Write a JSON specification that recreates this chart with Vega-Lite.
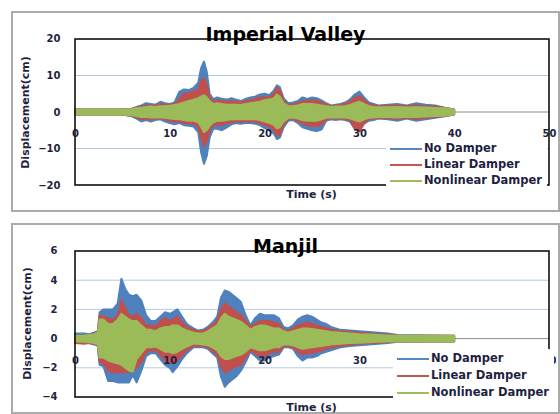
{
"$schema":"https://vega.github.io/schema/vega-lite/v6.json",
"autosize":{"type":"pad"},
"padding":{"left":11,"top":11,"right":0,"bottom":0},
"background":"white",
"bounds":"flush",
"spacing":13,
"resolve":{"legend":{"color":"independent"}},
"config":{"font":"DejaVu Sans","view":{"stroke":"#ababab","strokeWidth":2},"axis":{"labelOverlap":false,"labelBound":false,"labelSeparation":0,"zindex":1}},
"datasets":{
"iv":[
{"t":0,"bl":-0.7,"bh":0.7,"rl":-0.7,"rh":0.7,"gl":-0.7,"gh":0.7},
{"t":5,"bl":-0.7,"bh":0.7,"rl":-0.7,"rh":0.7,"gl":-0.7,"gh":0.7},
{"t":6,"bl":-1.2,"bh":0.9,"rl":-1,"rh":0.9,"gl":-0.9,"gh":0.8},
{"t":6.5,"bl":-1.8,"bh":1.4,"rl":-1.4,"rh":1.2,"gl":-1.1,"gh":1},
{"t":7,"bl":-2.6,"bh":1.8,"rl":-2,"rh":1.6,"gl":-1.4,"gh":1.2},
{"t":7.5,"bl":-2.2,"bh":2.4,"rl":-1.8,"rh":1.8,"gl":-1.3,"gh":1.4},
{"t":8,"bl":-2.6,"bh":2.2,"rl":-2,"rh":1.8,"gl":-1.5,"gh":1.5},
{"t":8.5,"bl":-2.2,"bh":2,"rl":-1.8,"rh":1.7,"gl":-1.5,"gh":1.4},
{"t":9,"bl":-2,"bh":2.8,"rl":-1.7,"rh":2.2,"gl":-1.5,"gh":1.6},
{"t":9.5,"bl":-2.6,"bh":2.4,"rl":-2,"rh":2,"gl":-1.6,"gh":1.6},
{"t":10,"bl":-3,"bh":2.2,"rl":-2.4,"rh":2,"gl":-1.8,"gh":1.7},
{"t":10.5,"bl":-3.4,"bh":2.6,"rl":-2.6,"rh":2.2,"gl":-1.9,"gh":1.9},
{"t":11,"bl":-3,"bh":5.5,"rl":-2.6,"rh":3.6,"gl":-2,"gh":2.2},
{"t":11.5,"bl":-3.6,"bh":6.2,"rl":-3,"rh":5,"gl":-2.2,"gh":2.6},
{"t":12,"bl":-3.8,"bh":6,"rl":-3,"rh":5.2,"gl":-2.4,"gh":3},
{"t":12.5,"bl":-4,"bh":6.6,"rl":-3.2,"rh":5.6,"gl":-2.4,"gh":3.4},
{"t":13,"bl":-5.5,"bh":8,"rl":-4,"rh":6,"gl":-2.8,"gh":3.8},
{"t":13.3,"bl":-11,"bh":12,"rl":-7,"rh":8.5,"gl":-4,"gh":4.2},
{"t":13.6,"bl":-14.2,"bh":13.8,"rl":-9.3,"rh":9.2,"gl":-5.5,"gh":4.6},
{"t":13.9,"bl":-12,"bh":11,"rl":-8,"rh":7.5,"gl":-5,"gh":4},
{"t":14.2,"bl":-7,"bh":5,"rl":-5,"rh":4,"gl":-3.8,"gh":3},
{"t":14.6,"bl":-4.5,"bh":3.5,"rl":-3.5,"rh":2.8,"gl":-2.8,"gh":2.2},
{"t":15,"bl":-4.6,"bh":4,"rl":-3.4,"rh":3.2,"gl":-2.4,"gh":2.4},
{"t":15.5,"bl":-5,"bh":3.6,"rl":-3.6,"rh":3,"gl":-2.4,"gh":2.2},
{"t":16,"bl":-4.2,"bh":3.4,"rl":-3,"rh":2.8,"gl":-2.2,"gh":2},
{"t":16.5,"bl":-3.4,"bh":3.8,"rl":-2.8,"rh":3,"gl":-2,"gh":2},
{"t":17,"bl":-3,"bh":3.4,"rl":-2.6,"rh":2.8,"gl":-2,"gh":2},
{"t":17.5,"bl":-3.2,"bh":3,"rl":-2.6,"rh":2.6,"gl":-2,"gh":1.9},
{"t":18,"bl":-3,"bh":3.6,"rl":-2.4,"rh":3,"gl":-1.9,"gh":2.2},
{"t":18.5,"bl":-3,"bh":4,"rl":-2.6,"rh":3.2,"gl":-2,"gh":2.4},
{"t":19,"bl":-3.2,"bh":4.2,"rl":-2.6,"rh":3.6,"gl":-2,"gh":2.6},
{"t":19.5,"bl":-3.6,"bh":4.8,"rl":-3,"rh":4,"gl":-2.2,"gh":2.8},
{"t":20,"bl":-4.4,"bh":5,"rl":-3.6,"rh":4,"gl":-2.6,"gh":3.2},
{"t":20.5,"bl":-5,"bh":4.6,"rl":-4,"rh":4,"gl":-3,"gh":3.4},
{"t":21,"bl":-6,"bh":6,"rl":-5,"rh":5,"gl":-3.6,"gh":3.8},
{"t":21.3,"bl":-7.4,"bh":7.3,"rl":-6.5,"rh":6.6,"gl":-4.5,"gh":4.8},
{"t":21.6,"bl":-7,"bh":6.8,"rl":-6.2,"rh":6,"gl":-4.2,"gh":4.2},
{"t":22,"bl":-4.2,"bh":3.8,"rl":-3.4,"rh":3,"gl":-2.6,"gh":2.4},
{"t":22.5,"bl":-2.4,"bh":2.4,"rl":-2,"rh":2,"gl":-1.6,"gh":1.6},
{"t":23,"bl":-2.2,"bh":2.6,"rl":-1.8,"rh":2,"gl":-1.5,"gh":1.6},
{"t":23.5,"bl":-3,"bh":3,"rl":-2.4,"rh":2.4,"gl":-1.8,"gh":1.8},
{"t":24,"bl":-4.2,"bh":4,"rl":-3.2,"rh":3,"gl":-2.2,"gh":2.2},
{"t":24.5,"bl":-4.6,"bh":3.6,"rl":-3.6,"rh":3,"gl":-2.4,"gh":2.2},
{"t":25,"bl":-5,"bh":4,"rl":-3.8,"rh":3.2,"gl":-2.4,"gh":2.2},
{"t":25.5,"bl":-5.2,"bh":3.8,"rl":-4,"rh":3,"gl":-2.4,"gh":2},
{"t":26,"bl":-4.8,"bh":3.2,"rl":-3.4,"rh":2.6,"gl":-2,"gh":1.8},
{"t":26.5,"bl":-2.4,"bh":2.4,"rl":-2,"rh":2,"gl":-1.6,"gh":1.6},
{"t":27,"bl":-2,"bh":1.8,"rl":-1.8,"rh":1.6,"gl":-1.5,"gh":1.4},
{"t":27.5,"bl":-2.2,"bh":2,"rl":-1.8,"rh":1.8,"gl":-1.5,"gh":1.5},
{"t":28,"bl":-2,"bh":2.2,"rl":-1.8,"rh":1.9,"gl":-1.5,"gh":1.5},
{"t":28.5,"bl":-2.2,"bh":2.6,"rl":-1.9,"rh":2.2,"gl":-1.5,"gh":1.6},
{"t":29,"bl":-2.6,"bh":3.4,"rl":-2.2,"rh":2.8,"gl":-1.7,"gh":1.9},
{"t":29.5,"bl":-4.6,"bh":4.8,"rl":-4.4,"rh":3.8,"gl":-2.2,"gh":2.4},
{"t":30,"bl":-5,"bh":5.6,"rl":-5.4,"rh":4.4,"gl":-2.6,"gh":2.8},
{"t":30.5,"bl":-3.2,"bh":4,"rl":-3,"rh":3.2,"gl":-2,"gh":2.2},
{"t":31,"bl":-2.4,"bh":2.6,"rl":-2,"rh":2.2,"gl":-1.6,"gh":1.6},
{"t":31.5,"bl":-2.2,"bh":2.2,"rl":-1.8,"rh":1.8,"gl":-1.5,"gh":1.4},
{"t":32,"bl":-1.8,"bh":1.8,"rl":-1.6,"rh":1.6,"gl":-1.4,"gh":1.3},
{"t":33,"bl":-2,"bh":2,"rl":-1.7,"rh":1.7,"gl":-1.4,"gh":1.3},
{"t":34,"bl":-2.4,"bh":2.2,"rl":-1.9,"rh":1.8,"gl":-1.5,"gh":1.4},
{"t":35,"bl":-1.8,"bh":1.8,"rl":-1.6,"rh":1.6,"gl":-1.3,"gh":1.2},
{"t":36,"bl":-2.4,"bh":2.4,"rl":-1.9,"rh":1.8,"gl":-1.4,"gh":1.3},
{"t":37,"bl":-2,"bh":2,"rl":-1.6,"rh":1.6,"gl":-1.2,"gh":1.2},
{"t":38,"bl":-1.6,"bh":1.8,"rl":-1.4,"rh":1.5,"gl":-1.1,"gh":1.1},
{"t":39,"bl":-1.2,"bh":1.2,"rl":-1.1,"rh":1.1,"gl":-1,"gh":1},
{"t":40,"bl":-0.7,"bh":0.7,"rl":-0.7,"rh":0.7,"gl":-0.7,"gh":0.7}
],
"mj":[
{"t":0,"bl":-0.2,"bh":0.35,"rl":-0.3,"rh":0.2,"gl":-0.2,"gh":0.2},
{"t":1,"bl":-0.25,"bh":0.35,"rl":-0.35,"rh":0.2,"gl":-0.22,"gh":0.22},
{"t":1.5,"bl":-0.3,"bh":0.3,"rl":-0.3,"rh":0.25,"gl":-0.25,"gh":0.25},
{"t":2,"bl":-0.4,"bh":0.4,"rl":-0.35,"rh":0.35,"gl":-0.3,"gh":0.3},
{"t":2.4,"bl":-0.5,"bh":0.5,"rl":-0.45,"rh":0.45,"gl":-0.4,"gh":0.4},
{"t":2.6,"bl":-1.8,"bh":1.8,"rl":-1.6,"rh":1.6,"gl":-1.3,"gh":1.3},
{"t":3,"bl":-1.9,"bh":2,"rl":-1.7,"rh":1.5,"gl":-1.3,"gh":1.3},
{"t":3.5,"bl":-2.9,"bh":2,"rl":-2.2,"rh":1.4,"gl":-1.5,"gh":1},
{"t":4,"bl":-2.9,"bh":2,"rl":-2.3,"rh":1.3,"gl":-1.6,"gh":1},
{"t":4.5,"bl":-3,"bh":2.4,"rl":-2.3,"rh":1.6,"gl":-1.7,"gh":1.3},
{"t":4.9,"bl":-3,"bh":4.1,"rl":-2.3,"rh":2.6,"gl":-1.8,"gh":1.7},
{"t":5.3,"bl":-3,"bh":3.4,"rl":-2.3,"rh":2.1,"gl":-2,"gh":1.5},
{"t":5.7,"bl":-3,"bh":3,"rl":-2.3,"rh":1.6,"gl":-2.2,"gh":1.3},
{"t":6.1,"bl":-2.5,"bh":2.9,"rl":-2.2,"rh":1.5,"gl":-2.25,"gh":1.2},
{"t":6.5,"bl":-3,"bh":3,"rl":-2,"rh":1.7,"gl":-1.4,"gh":1.2},
{"t":7,"bl":-2.2,"bh":2.6,"rl":-1.6,"rh":1.4,"gl":-1,"gh":0.9},
{"t":7.5,"bl":-1.2,"bh":1.6,"rl":-0.9,"rh":0.9,"gl":-0.6,"gh":0.6},
{"t":8,"bl":-1,"bh":1.2,"rl":-0.8,"rh":0.9,"gl":-0.6,"gh":0.6},
{"t":8.5,"bl":-1,"bh":1.2,"rl":-0.8,"rh":0.8,"gl":-0.55,"gh":0.5},
{"t":9,"bl":-1.4,"bh":1.5,"rl":-1.1,"rh":1.2,"gl":-0.7,"gh":0.7},
{"t":9.5,"bl":-1.8,"bh":1.8,"rl":-1.5,"rh":1.4,"gl":-0.9,"gh":0.8},
{"t":10,"bl":-2,"bh":1.7,"rl":-1.6,"rh":1.2,"gl":-0.9,"gh":0.8},
{"t":10.3,"bl":-2.3,"bh":1.8,"rl":-1.7,"rh":1.3,"gl":-1,"gh":0.9},
{"t":10.8,"bl":-1.9,"bh":2,"rl":-1.5,"rh":1.5,"gl":-0.9,"gh":0.9},
{"t":11.3,"bl":-1.4,"bh":1.5,"rl":-1.1,"rh":1.1,"gl":-0.7,"gh":0.7},
{"t":11.8,"bl":-1,"bh":1,"rl":-0.8,"rh":0.8,"gl":-0.55,"gh":0.55},
{"t":12.5,"bl":-0.6,"bh":0.7,"rl":-0.5,"rh":0.6,"gl":-0.35,"gh":0.4},
{"t":13,"bl":-0.6,"bh":0.55,"rl":-0.5,"rh":0.5,"gl":-0.35,"gh":0.35},
{"t":13.5,"bl":-0.6,"bh":0.6,"rl":-0.5,"rh":0.5,"gl":-0.4,"gh":0.35},
{"t":14,"bl":-0.7,"bh":0.8,"rl":-0.6,"rh":0.7,"gl":-0.45,"gh":0.5},
{"t":14.5,"bl":-1,"bh":1.1,"rl":-0.85,"rh":0.9,"gl":-0.6,"gh":0.7},
{"t":15,"bl":-1.3,"bh":1.5,"rl":-1.1,"rh":1.2,"gl":-0.8,"gh":0.9},
{"t":15.4,"bl":-2.6,"bh":2.8,"rl":-1.9,"rh":2,"gl":-1.2,"gh":1.4},
{"t":15.8,"bl":-3.3,"bh":3.3,"rl":-2.3,"rh":2.4,"gl":-1.4,"gh":1.7},
{"t":16.2,"bl":-3,"bh":3.2,"rl":-2.2,"rh":2.2,"gl":-1.4,"gh":1.5},
{"t":16.6,"bl":-2.8,"bh":3,"rl":-2,"rh":2,"gl":-1.3,"gh":1.4},
{"t":17,"bl":-2.6,"bh":2.8,"rl":-1.9,"rh":1.8,"gl":-1.2,"gh":1.3},
{"t":17.5,"bl":-2.2,"bh":2.5,"rl":-1.8,"rh":1.6,"gl":-1.1,"gh":1.15},
{"t":18,"bl":-1.6,"bh":1.6,"rl":-1.3,"rh":1.2,"gl":-0.9,"gh":0.9},
{"t":18.5,"bl":-0.9,"bh":0.9,"rl":-0.8,"rh":0.8,"gl":-0.6,"gh":0.6},
{"t":19,"bl":-1.2,"bh":1.4,"rl":-1,"rh":1,"gl":-0.7,"gh":0.8},
{"t":19.5,"bl":-1.5,"bh":1.7,"rl":-1.2,"rh":1.2,"gl":-0.8,"gh":0.9},
{"t":20,"bl":-1.5,"bh":1.6,"rl":-1.2,"rh":1.2,"gl":-0.8,"gh":0.9},
{"t":20.5,"bl":-1.3,"bh":1.6,"rl":-1,"rh":1.2,"gl":-0.7,"gh":0.8},
{"t":21,"bl":-1.2,"bh":1.6,"rl":-0.9,"rh":1.1,"gl":-0.6,"gh":0.7},
{"t":21.5,"bl":-1.1,"bh":1.4,"rl":-0.9,"rh":1,"gl":-0.6,"gh":0.7},
{"t":22,"bl":-0.6,"bh":0.8,"rl":-0.5,"rh":0.6,"gl":-0.4,"gh":0.5},
{"t":22.5,"bl":-0.6,"bh":0.7,"rl":-0.5,"rh":0.5,"gl":-0.4,"gh":0.4},
{"t":23,"bl":-0.7,"bh":0.9,"rl":-0.6,"rh":0.7,"gl":-0.45,"gh":0.5},
{"t":23.5,"bl":-1.2,"bh":1.3,"rl":-0.9,"rh":0.9,"gl":-0.6,"gh":0.6},
{"t":24,"bl":-1.5,"bh":1.5,"rl":-1.1,"rh":1,"gl":-0.7,"gh":0.7},
{"t":24.5,"bl":-1.3,"bh":1.6,"rl":-1,"rh":1.1,"gl":-0.65,"gh":0.7},
{"t":25,"bl":-1.3,"bh":1.5,"rl":-1,"rh":1,"gl":-0.6,"gh":0.65},
{"t":25.5,"bl":-1.2,"bh":1.3,"rl":-0.9,"rh":0.9,"gl":-0.55,"gh":0.6},
{"t":26,"bl":-1,"bh":1.1,"rl":-0.8,"rh":0.8,"gl":-0.5,"gh":0.55},
{"t":26.5,"bl":-0.9,"bh":1,"rl":-0.7,"rh":0.7,"gl":-0.45,"gh":0.5},
{"t":27,"bl":-0.8,"bh":0.8,"rl":-0.6,"rh":0.6,"gl":-0.4,"gh":0.45},
{"t":28,"bl":-0.6,"bh":0.6,"rl":-0.5,"rh":0.5,"gl":-0.35,"gh":0.4},
{"t":29,"bl":-0.5,"bh":0.55,"rl":-0.4,"rh":0.45,"gl":-0.3,"gh":0.35},
{"t":30,"bl":-0.45,"bh":0.5,"rl":-0.35,"rh":0.4,"gl":-0.28,"gh":0.3},
{"t":31,"bl":-0.4,"bh":0.45,"rl":-0.3,"rh":0.35,"gl":-0.25,"gh":0.28},
{"t":32,"bl":-0.35,"bh":0.4,"rl":-0.28,"rh":0.3,"gl":-0.22,"gh":0.25},
{"t":33,"bl":-0.3,"bh":0.35,"rl":-0.25,"rh":0.28,"gl":-0.2,"gh":0.22},
{"t":34,"bl":-0.22,"bh":0.25,"rl":-0.2,"rh":0.22,"gl":-0.2,"gh":0.2},
{"t":40,"bl":-0.2,"bh":0.2,"rl":-0.2,"rh":0.2,"gl":-0.2,"gh":0.2}
]
},
"vconcat":[
{
"width":547,"height":199,
"data":{"name":"iv"},
"title":{"text":"Imperial Valley","frame":"group","anchor":"middle","offset":-42,"baseline":"middle","fontSize":19,"fontWeight":"bold","font":"DejaVu Sans","color":"#000000"},
"layer":[
{"data":{"values":[{"g":10},{"g":-10}]},"mark":{"type":"rule","color":"#b4c9ea","strokeWidth":1},
 "encoding":{"x":{"datum":0,"type":"quantitative"},"x2":{"datum":50},"y":{"field":"g","type":"quantitative"}}},
{"data":{"values":[{}]},"mark":{"type":"rule","color":"#8c8c8c","strokeWidth":1},
 "encoding":{"x":{"datum":0,"type":"quantitative"},"x2":{"datum":50},"y":{"datum":0,"type":"quantitative"}}},
{"mark":{"type":"area","stroke":"#4f81bd","strokeWidth":2,"strokeJoin":"round"},
 "encoding":{
  "x":{"field":"t","type":"quantitative","scale":{"domain":[-6.646,51.056],"nice":false,"zero":false},
       "axis":{"values":[0,10,20,30,40,50],"tickCount":20,"format":"d","offset":-98.3,"zindex":1,"domain":false,"ticks":false,"tickSize":0,"grid":false,"labelPadding":16,"labelFlush":false,"labelOverlap":false,"labelFontSize":10,"labelFontWeight":"bold","labelColor":"#1f1f3f","title":"Time (s)","titleX":299,"titleY":82,"titleBaseline":"middle","titleAlign":"center","titleFontSize":11,"titleFontWeight":"bold","titleColor":"#1f1f3f"}},
  "y":{"field":"bl","type":"quantitative","scale":{"domain":[-27.123,27.397],"nice":false,"zero":false},
       "axis":{"values":[-20,-10,0,10,20],"tickCount":20,"format":"d","offset":-63,"zindex":1,"domain":false,"ticks":false,"tickSize":0,"grid":false,"labelPadding":15,"labelFlush":false,"labelOverlap":false,"labelFontSize":10,"labelFontWeight":"bold","labelColor":"#1f1f3f","title":"Displacement(cm)","titleX":-50,"titleY":100,"titleAngle":270,"titleBaseline":"middle","titleAlign":"center","titleFontSize":11,"titleFontWeight":"bold","titleColor":"#1f1f3f"}},
  "y2":{"field":"bh"},
  "color":{"datum":"No Damper","scale":{"domain":["No Damper","Linear Damper","Nonlinear Damper"],"range":["#4f81bd","#c0504d","#9bbb59"]},
       "legend":{"orient":"none","legendX":374,"legendY":127,"zindex":2,"title":null,"symbolType":"M-1,-0.06H1V0.06H-1Z","symbolSize":1024,"symbolStrokeWidth":0,"clipHeight":12,"rowPadding":4,"labelOffset":2,"padding":4,"fillColor":"white","labelFontSize":11.5,"labelFontWeight":"bold","labelColor":"#1f1f3f","labelFont":"DejaVu Sans","labelLimit":200}}
 }},
{"mark":{"type":"area","stroke":"#c0504d","strokeWidth":2,"strokeJoin":"round"},
 "encoding":{"x":{"field":"t","type":"quantitative"},"y":{"field":"rl","type":"quantitative"},"y2":{"field":"rh"},"color":{"datum":"Linear Damper"}}},
{"mark":{"type":"area","stroke":"#9bbb59","strokeWidth":2,"strokeJoin":"round"},
 "encoding":{"x":{"field":"t","type":"quantitative"},"y":{"field":"gl","type":"quantitative"},"y2":{"field":"gh"},"color":{"datum":"Nonlinear Damper"}}},
{"data":{"values":[{}]},"mark":{"type":"rect","filled":false,"stroke":"#000000","strokeWidth":1.5},
 "encoding":{"x":{"datum":0,"type":"quantitative"},"x2":{"datum":50},"y":{"datum":-20,"type":"quantitative"},"y2":{"datum":20}}}
]
},
{
"width":547,"height":189,
"data":{"name":"mj"},
"title":{"text":"Manjil","frame":"group","anchor":"middle","offset":-42,"baseline":"middle","fontSize":19,"fontWeight":"bold","font":"DejaVu Sans","color":"#000000"},
"layer":[
{"data":{"values":[{"g":4},{"g":2},{"g":-2}]},"mark":{"type":"rule","color":"#b4c9ea","strokeWidth":1},
 "encoding":{"x":{"datum":0,"type":"quantitative"},"x2":{"datum":50},"y":{"field":"g","type":"quantitative"}}},
{"data":{"values":[{}]},"mark":{"type":"rule","color":"#8c8c8c","strokeWidth":1},
 "encoding":{"x":{"datum":0,"type":"quantitative"},"x2":{"datum":50},"y":{"datum":0,"type":"quantitative"}}},
{"mark":{"type":"area","stroke":"#4f81bd","strokeWidth":2,"strokeJoin":"round"},
 "encoding":{
  "x":{"field":"t","type":"quantitative","scale":{"domain":[-6.646,51.056],"nice":false,"zero":false},
       "axis":{"values":[0,10,20,30,40,50],"tickCount":20,"format":"d","offset":-74,"zindex":1,"domain":false,"ticks":false,"tickSize":0,"grid":false,"labelPadding":16,"labelFlush":false,"labelOverlap":false,"labelFontSize":10,"labelFontWeight":"bold","labelColor":"#1f1f3f","title":"Time (s)","titleX":299,"titleY":68,"titleBaseline":"middle","titleAlign":"center","titleFontSize":11,"titleFontWeight":"bold","titleColor":"#1f1f3f"}},
  "y":{"field":"bl","type":"quantitative","scale":{"domain":[-5.096,7.849],"nice":false,"zero":false},
       "axis":{"values":[-4,-2,0,2,4,6],"tickCount":20,"format":"d","offset":-63,"zindex":1,"domain":false,"ticks":false,"tickSize":0,"grid":false,"labelPadding":18,"labelFlush":false,"labelOverlap":false,"labelFontSize":10,"labelFontWeight":"bold","labelColor":"#1f1f3f","title":"Displacement(cm)","titleX":-48,"titleY":99,"titleAngle":270,"titleBaseline":"middle","titleAlign":"center","titleFontSize":11,"titleFontWeight":"bold","titleColor":"#1f1f3f"}},
  "y2":{"field":"bh"},
  "color":{"datum":"No Damper","scale":{"domain":["No Damper","Linear Damper","Nonlinear Damper"],"range":["#4f81bd","#c0504d","#9bbb59"]},
       "legend":{"orient":"none","legendX":381,"legendY":125,"zindex":2,"title":null,"symbolType":"M-1,-0.06H1V0.06H-1Z","symbolSize":1024,"symbolStrokeWidth":0,"clipHeight":12,"rowPadding":5,"labelOffset":2,"padding":4,"fillColor":"white","labelFontSize":11.5,"labelFontWeight":"bold","labelColor":"#1f1f3f","labelFont":"DejaVu Sans","labelLimit":200}}
 }},
{"mark":{"type":"area","stroke":"#c0504d","strokeWidth":2,"strokeJoin":"round"},
 "encoding":{"x":{"field":"t","type":"quantitative"},"y":{"field":"rl","type":"quantitative"},"y2":{"field":"rh"},"color":{"datum":"Linear Damper"}}},
{"mark":{"type":"area","stroke":"#9bbb59","strokeWidth":2,"strokeJoin":"round"},
 "encoding":{"x":{"field":"t","type":"quantitative"},"y":{"field":"gl","type":"quantitative"},"y2":{"field":"gh"},"color":{"datum":"Nonlinear Damper"}}},
{"data":{"values":[{}]},"mark":{"type":"rect","filled":false,"stroke":"#000000","strokeWidth":1.5},
 "encoding":{"x":{"datum":0,"type":"quantitative"},"x2":{"datum":50},"y":{"datum":-4,"type":"quantitative"},"y2":{"datum":6}}}
]
}
]
}
